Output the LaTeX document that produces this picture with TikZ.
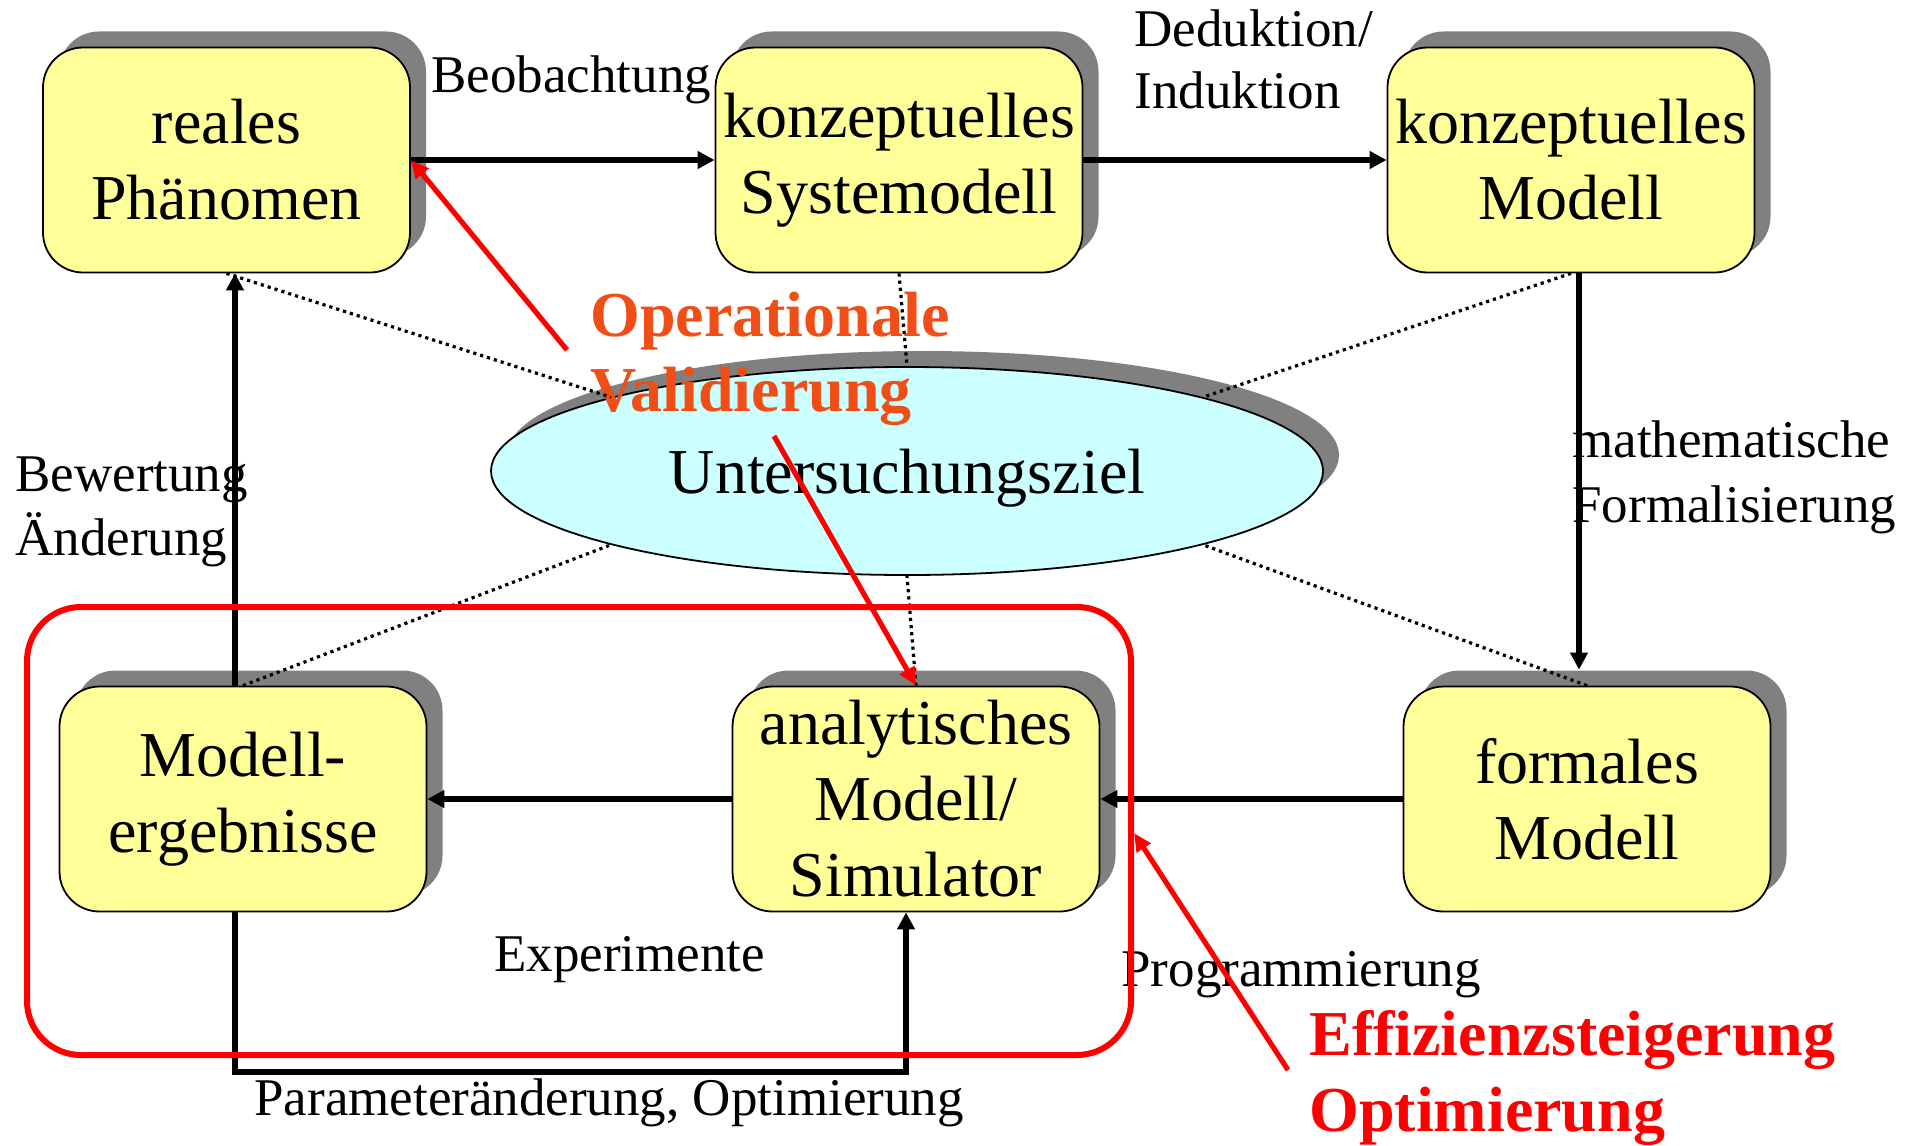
\documentclass[tikz,border=0pt]{standalone}
\usepackage{fontspec}
\setmainfont{Liberation Serif}
\usetikzlibrary{arrows.meta,shapes.geometric,shadows}
\definecolor{boxyellow}{HTML}{FFFF99}
\definecolor{goalcyan}{HTML}{CCFFFF}
\definecolor{shadowgray}{HTML}{808080}
\definecolor{valorange}{HTML}{F04E16}
\begin{document}
\begin{tikzpicture}[x=0.5pt,y=-0.5pt,
	box/.style={draw,line width=0.9pt,fill=boxyellow,rounded corners=20pt,minimum width=183.5pt,minimum height=112.5pt,inner sep=0pt,align=center,font=\fontsize{32}{38}\selectfont,drop shadow={shadow xshift=8pt,shadow yshift=8pt,fill=shadowgray,opacity=1}},
	lbl/.style={inner sep=0pt,anchor=base west,align=left,font=\fontsize{26.5}{31.5}\selectfont},
	flow/.style={line width=3pt,-{Triangle[length=8.5pt,width=8.5pt]}},
	link/.style={line width=1.6pt,dotted},
	redarr/.style={red,line width=2.6pt,-{Triangle[length=9pt,width=8pt]}}]
		\useasboundingbox (0,0) rectangle (1914,1145);
		\coordinate (bw) at (235,0);
		\coordinate (mf) at (1579,0);
		\coordinate (loop) at (906,1072);
		\coordinate (fr1) at (27,607);
		\coordinate (fr2) at (1131,1055);
		\coordinate (opvtail) at (567,350);
		\coordinate (simtail) at (774,436);
		\coordinate (effitail) at (1288,1070);
		\coordinate (effihead) at (1134,833);
		\node[box] (real) at (226.5,160) {reales\\Phänomen};
		\node[box] (sysm) at (899,160) {konzeptuelles\\Systemodell};
		\node[box] (konz) at (1571,160) {konzeptuelles\\Modell};
		\node[box] (ergeb) at (243,799) {Modell-\\ergebnisse};
		\node[box] (ana) at (916,799) {analytisches\\Modell/\\Simulator};
		\node[box] (form) at (1587,799) {formales\\Modell};
		\node[ellipse,draw,line width=0.9pt,fill=goalcyan,minimum width=416pt,minimum height=104pt,inner sep=0pt,text depth=0pt,font=\fontsize{32}{38}\selectfont,drop shadow={shadow xshift=8pt,shadow yshift=8pt,fill=shadowgray,opacity=1}] (goal) at (907,471) {Untersuchungsziel};
		\node[lbl] (beob) at (431,92) {Beobachtung};
		\node[lbl] (dedu) at (1134,109) {Deduktion/\\Induktion};
		\node[lbl,font=\fontsize{26.5}{32.5}\selectfont] (mathf) at (1572,522) {mathematische\\Formalisierung};
		\node[lbl,font=\fontsize{26.5}{32}\selectfont] (bewe) at (15,555) {Bewertung\\Änderung};
		\node[lbl] (expe) at (494,971) {Experimente};
		\node[lbl] (prog) at (1121,986) {Programmierung};
		\node[lbl] (para) at (254,1115) {Parameteränderung, Optimierung};
		\node[lbl,font=\bfseries\fontsize{32}{37.5}\selectfont,text=valorange] (opval) at (590,411) {Operationale\\Validierung};
		\node[lbl,font=\bfseries\fontsize{32}{38}\selectfont,text=red] (effi) at (1309,1131) {Effizienzsteigerung\\Optimierung};
		\draw[link] (real.south) -- (goal.166);
		\draw[link] (sysm.south) -- (goal.north);
		\draw[link] (konz.south) -- (goal.14);
		\draw[link] (ergeb.north) -- (goal.194);
		\draw[link] (ana.north) -- (goal.south);
		\draw[link] (form.north) -- (goal.346);
		\draw[flow] (real.east) -- (sysm.west);
		\draw[flow] (sysm.east) -- (konz.west);
		\draw[flow,shorten >=8pt] (konz.south -| mf) -- (form.north -| mf);
		\draw[flow] (form.west) -- (ana.east);
		\draw[flow] (ana.west) -- (ergeb.east);
		\draw[flow] (ergeb.north -| bw) -- (real.south -| bw);
		\draw[flow] (ergeb.south -| bw) |- (loop) -- (ana.south -| loop);
		\draw[red,line width=3pt,rounded corners=27pt] (fr1) rectangle (fr2);
		\draw[redarr] (opvtail) -- (real.east);
		\draw[redarr] (simtail) -- (ana.north);
		\draw[redarr] (effitail) -- (effihead);
	\end{tikzpicture}
\end{document}
